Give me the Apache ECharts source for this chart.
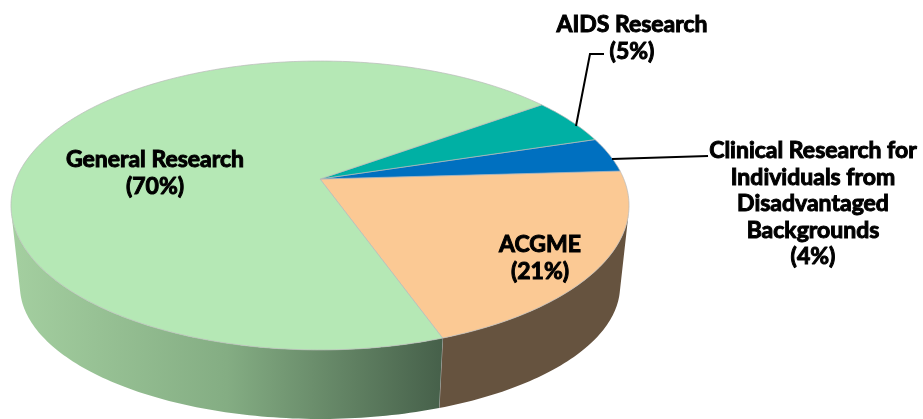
<!DOCTYPE html>
<html>
<head>
<meta charset="utf-8">
<style>
  html, body { margin: 0; padding: 0; background: #fff; }
  #main { width: 923px; height: 419px; }
</style>
<script src="https://cdn.jsdelivr.net/npm/echarts@6/dist/echarts.min.js"></script>
</head>
<body>
<div id="main"></div>
<script>
// slices in drawing order, walking back from the front seam
var categories = ['ACGME', 'Clinical Research for\nIndividuals from\nDisadvantaged\nBackgrounds', 'AIDS Research', 'General Research'];
var shares = [20.5, 3.9, 5.2, 70.4];
var topColors = ['#fbc994', '#0070c0', '#00b0a4', '#b5e8b5'];

var startAngle = 70.5;
var TOP = { x: 320, y: 179, a: 303.8, b: 139.6 };
var BOTTOM = { x: 320, y: 261.6, a: 295, b: 128.5 };
var K = -0.1834; // perspective of the tilted disc
var EDGE_ANGLE = 13; // where the wall leaves the top disc at left and right

var labelPos = [[540, 258], [813, 204], [632, 38], [155, 173]];
var leaders = [
  null,
  [[612, 159], [708, 156]],
  [[576, 126], [590, 54], [604, 54]],
  null
];

var sideFill = [
  '#66533f',
  '#2f5f8a',
  '#00807a',
  new echarts.graphic.LinearGradient(0, 0, 1, 0, [
    { offset: 0, color: '#a4cfa0' },
    { offset: 0.5, color: '#84ad83' },
    { offset: 1, color: '#46604a' }
  ])
];

function project(disc, deg) {
  var t = deg * Math.PI / 180;
  var w = 1 + K * Math.sin(t);
  return [disc.x + disc.a * Math.cos(t) / w, disc.y + disc.b * Math.sin(t) / w];
}

function arc(disc, from, to) {
  var pts = [];
  var n = Math.max(2, Math.ceil(Math.abs(to - from)));
  for (var i = 0; i <= n; i++) {
    pts.push(project(disc, from + (to - from) * i / n));
  }
  return pts;
}

// angle range of a slice; positive angles point down the screen
function sliceRange(idx) {
  var before = 0;
  for (var i = 0; i < idx; i++) before += shares[i];
  var hi = startAngle - before * 3.6;
  return [hi - shares[idx] * 3.6, hi];
}

function renderSide(params, api) {
  var idx = params.dataIndex;
  var r = sliceRange(idx);
  var lo = r[0], hi = r[1];
  if (idx === 3) { lo = startAngle; hi = 180 - EDGE_ANGLE; } // the big slice wraps round the front left
  else { lo = Math.max(lo, EDGE_ANGLE); }
  if (hi <= lo) return { type: 'group', children: [] };
  var pts = arc(TOP, lo, hi).concat(arc(BOTTOM, hi, lo));
  var children = [{
    type: 'polygon',
    shape: { points: pts },
    style: { fill: sideFill[idx] }
  }];
  if (idx === 0) {
    var a = project(TOP, hi), b = project(BOTTOM, hi);
    children.push({
      type: 'line',
      shape: { x1: a[0], y1: a[1], x2: b[0], y2: b[1] },
      style: { stroke: '#b4b4b4', lineWidth: 1 }
    });
  }
  return { type: 'group', children: children };
}

function renderTop(params, api) {
  var idx = params.dataIndex;
  var r = sliceRange(idx);
  var pts = [[TOP.x, TOP.y]].concat(arc(TOP, r[0], r[1]));
  return {
    type: 'polygon',
    shape: { points: pts },
    style: { fill: topColors[idx], stroke: '#b9b9b9', lineWidth: 0.7 }
  };
}

function renderLabel(params, api) {
  var idx = params.dataIndex;
  var children = [];
  if (leaders[idx]) {
    children.push({
      type: 'polyline',
      shape: { points: leaders[idx] },
      style: { fill: null, stroke: '#000', lineWidth: 2 }
    });
  }
  children.push({
    type: 'text',
    x: labelPos[idx][0],
    y: labelPos[idx][1],
    style: {
      text: categories[idx] + '\n(' + Math.round(api.value(1)) + '%)',
      font: 'bold 23px Lato',
      lineHeight: 26.5,
      fill: '#000',
      stroke: '#000',
      lineWidth: 1,
      textAlign: 'center',
      textVerticalAlign: 'middle'
    }
  });
  return { type: 'group', children: children };
}

var seriesData = categories.map(function (c, i) { return [i, shares[i]]; });

var chart = echarts.init(document.getElementById('main'), null, { renderer: 'canvas' });
chart.setOption({
  animation: false,
  backgroundColor: '#fff',
  series: [
    { type: 'custom', coordinateSystem: 'none', renderItem: renderSide, data: seriesData, z: 1, silent: true },
    { type: 'custom', coordinateSystem: 'none', renderItem: renderTop, data: seriesData, z: 2, silent: true },
    { type: 'custom', coordinateSystem: 'none', renderItem: renderLabel, data: seriesData, z: 3, silent: true }
  ]
});
</script>
</body>
</html>
